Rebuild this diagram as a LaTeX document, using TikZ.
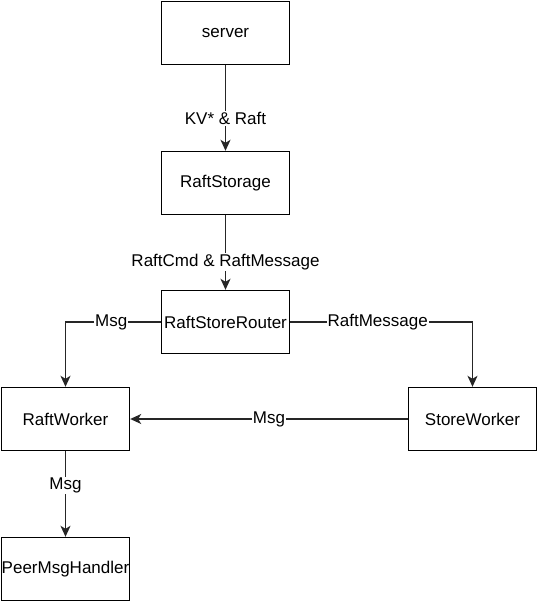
\documentclass[tikz,border=0pt]{standalone}
\usepackage{fontspec}
\setmainfont{Liberation Sans}
\usetikzlibrary{arrows.meta}
\begin{document}
\begin{tikzpicture}[x=1pt,y=-1pt,
  box/.style={draw=black,line width=1.4pt,minimum width=128pt,minimum height=63pt,inner sep=0pt,font=\fontsize{17}{20}\selectfont},
  conn/.style={draw=black!85,line width=1.4pt,-{Stealth[length=11pt,width=10pt,inset=3pt]}},
  lbl/.style={fill=white,inner sep=1pt,font=\fontsize{17}{20}\selectfont}]
\useasboundingbox (0,0) rectangle (538,602);
\node[box] (server) at (225.5,33) {server};
\node[box] (storage) at (225.5,183) {RaftStorage};
\node[box] (router) at (225.5,322) {RaftStoreRouter};
\node[box] (rworker) at (65.5,419) {RaftWorker};
\node[box] (sworker) at (472.5,419) {StoreWorker};
\node[box] (handler) at (65.5,569) {PeerMsgHandler};
\draw[conn] (server) -- node[lbl,pos=0.62] {KV* \& Raft} (storage);
\draw[conn] (storage) -- node[lbl,pos=0.63] {RaftCmd \& RaftMessage} (router);
\draw[conn] (router.west) -- node[lbl,pos=0.52] {Msg} (rworker.north |- router.west) -- (rworker.north);
\draw[conn] (router.east) -- node[lbl,pos=0.48] {RaftMessage} (sworker.north |- router.east) -- (sworker.north);
\draw[conn] (sworker) -- node[lbl,pos=0.5] {Msg} (rworker);
\draw[conn] (rworker) -- node[lbl,pos=0.4] {Msg} (handler);
\end{tikzpicture}
\end{document}
